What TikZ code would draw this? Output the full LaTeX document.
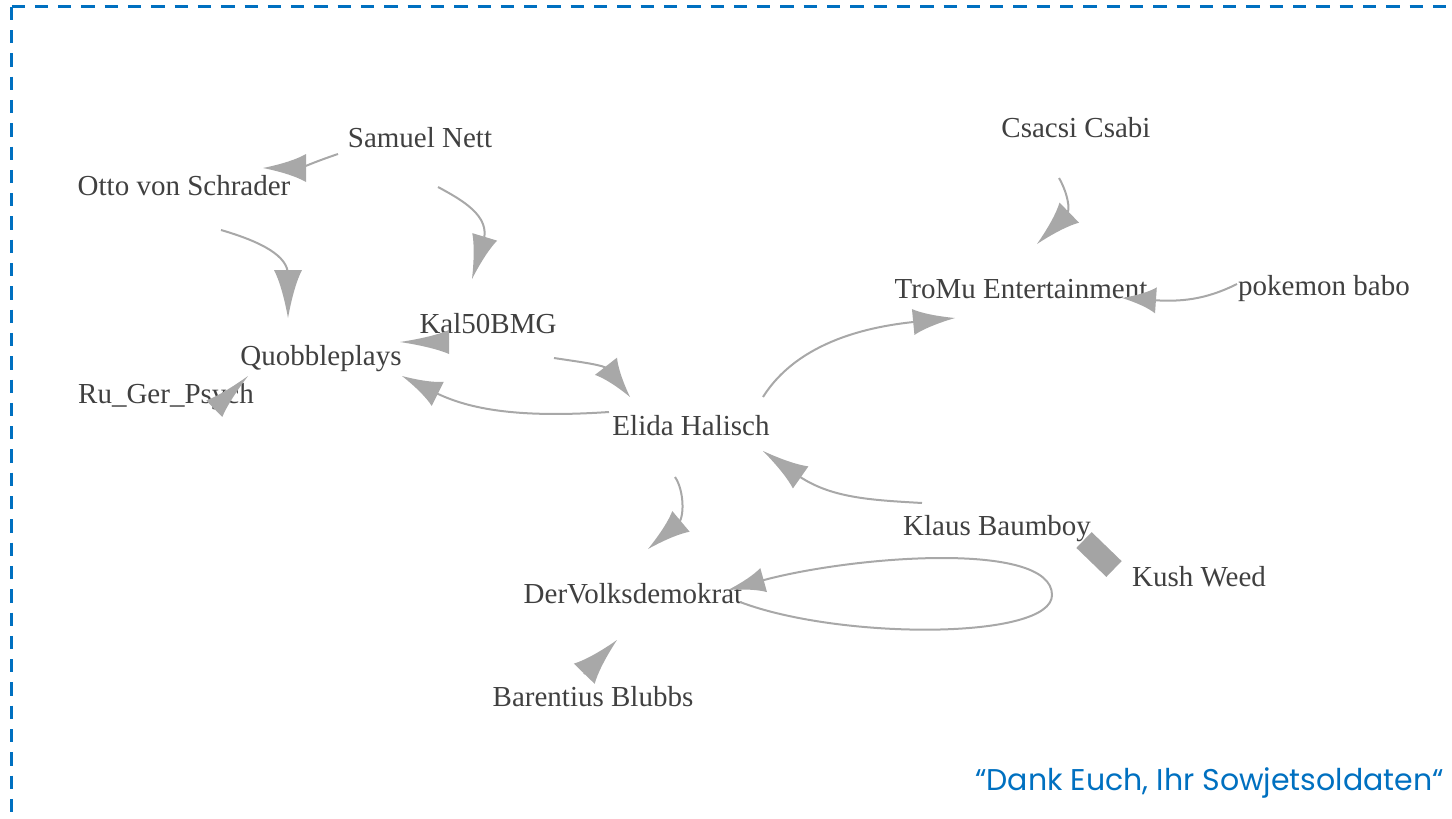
\documentclass[tikz,border=0pt]{standalone}
\usepackage{fontspec}
\setmainfont{Liberation Serif}
\newfontfamily\quotefont{Poppins}
\usetikzlibrary{arrows.meta}
\definecolor{edgegray}{HTML}{A8A8A8}
\definecolor{headgray}{HTML}{A4A4A4}
\definecolor{labelgray}{HTML}{404040}
\definecolor{frameblue}{HTML}{0070C0}

\pgfdeclarearrow{
  name = IgHead,
  parameters = {\the\pgfarrowlength,\the\pgfarrowwidth},
  setup code = {
    \pgfarrowssettipend{0pt}
    \pgfarrowssetlineend{-0.9\pgfarrowlength}
    \pgfarrowssetvisualbackend{-\pgfarrowlength}
    \pgfarrowssetbackend{-\pgfarrowlength}
    \pgfarrowshullpoint{0pt}{0pt}
    \pgfarrowsupperhullpoint{-\pgfarrowlength}{.5\pgfarrowwidth}
    \pgfarrowssavethe\pgfarrowlength
    \pgfarrowssavethe\pgfarrowwidth
  },
  drawing code = {
    \pgfpathmoveto{\pgfqpoint{0pt}{0pt}}
    \pgfpathcurveto{\pgfqpoint{-.45\pgfarrowlength}{.14\pgfarrowwidth}}{\pgfqpoint{-.8\pgfarrowlength}{.32\pgfarrowwidth}}{\pgfqpoint{-\pgfarrowlength}{.5\pgfarrowwidth}}
    \pgfpathlineto{\pgfqpoint{-\pgfarrowlength}{-.5\pgfarrowwidth}}
    \pgfpathcurveto{\pgfqpoint{-.8\pgfarrowlength}{-.32\pgfarrowwidth}}{\pgfqpoint{-.45\pgfarrowlength}{-.14\pgfarrowwidth}}{\pgfqpoint{0pt}{0pt}}
    \pgfpathclose
    \pgfusepathqfill
  },
  defaults = {length = 42pt, width = 27pt}
}

\begin{document}
\begin{tikzpicture}[x=1pt,y=-1pt,
  lbl/.style={inner sep=0pt, anchor=base, text=labelgray, font=\fontsize{29}{34}\selectfont},
  link/.style={draw=edgegray, line width=2pt},
  thicklink/.style={draw=headgray, line width=22pt},
  frame/.style={draw=frameblue, line width=3.3pt, dash pattern=on 13.3pt off 10pt},
  quotetext/.style={inner sep=0pt, anchor=base east, text=frameblue, font=\quotefont\fontsize{30}{36}\selectfont}
]
\useasboundingbox (0,0) rectangle (1452,819);

% frame
\draw[frame] (11.5,6.7) -- (11.5,819);
\draw[frame] (11.5,6.7) -- (1452,6.7);

% nodes
\node[lbl] (samuel)   at (420,147) {Samuel Nett};
\node[lbl] (otto)     at (184,195) {Otto von Schrader};
\node[lbl] (csacsi)   at (1076,137) {Csacsi Csabi};
\node[lbl] (tromu)    at (1021,298) {TroMu Entertainment};
\node[lbl] (pokemon)  at (1324,295) {pokemon babo};
\node[lbl] (kal)      at (488,333) {Kal50BMG};
\node[lbl] (quob)     at (321,365) {Quobbleplays};
\node[lbl] (ruger)    at (166,403) {Ru\_Ger\_Psych};
\node[lbl] (elida)    at (691,435) {Elida Halisch};
\node[lbl] (klaus)    at (997,535) {Klaus Baumboy};
\node[lbl] (kush)     at (1199,586) {Kush Weed};
\node[lbl] (dervolks) at (633,603) {DerVolksdemokrat};
\node[lbl] (barent)   at (593,706) {Barentius Blubbs};

\node[quotetext] (quote) at (1444,790) {“Dank Euch, Ihr Sowjetsoldaten“};

% edges
\draw[link, -{IgHead[length=43pt,width=28pt]}]
  ([shift={(-82,7)}]samuel.base) .. controls (320,160) and (300,168) .. ([shift={(79,-27)}]otto.base);
\draw[link, -{IgHead[length=44pt,width=26pt]}]
  ([shift={(18,40)}]samuel.base) .. controls (462,200) and (491,216) .. ([shift={(-16,-54)}]kal.base);
\draw[link, -{IgHead[length=48pt,width=28pt]}]
  ([shift={(37,35)}]otto.base) .. controls (262,242) and (288,256) .. ([shift={(-33,-47)}]quob.base);
\draw[link, -{IgHead[length=47pt,width=23pt]}]
  ([shift={(48,6)}]ruger.base) -- ([shift={(-73,11)}]quob.base);
\draw[link, -{IgHead[length=49pt,width=24pt]}]
  ([shift={(-39,9)}]kal.base) -- ([shift={(79,-23)}]quob.base);
\draw[link, -{IgHead[length=39pt,width=28pt]}]
  ([shift={(66,25)}]kal.base) .. controls (580,362) and (605,365) .. ([shift={(-61,-38)}]elida.base);
\draw[link, -{IgHead[length=40pt,width=27pt]}]
  ([shift={(-82,-23)}]elida.base) .. controls (520,418) and (470,410) .. ([shift={(81,11)}]quob.base);
\draw[link, -{IgHead[length=42pt,width=26pt]}]
  ([shift={(72,-38)}]elida.base) .. controls (785,362) and (830,330) .. ([shift={(-66,20)}]tromu.base);
\draw[link, -{IgHead[length=45pt,width=28pt]}]
  ([shift={(-17,41)}]csacsi.base) .. controls (1066,190) and (1072,210) .. ([shift={(16,-54)}]tromu.base);
\draw[link, -{IgHead[length=34pt,width=26pt]}]
  ([shift={(-87,-11)}]pokemon.base) .. controls (1205,300) and (1180,302) .. ([shift={(101,0)}]tromu.base);
\draw[link, -{IgHead[length=43pt,width=27pt]}]
  ([shift={(-16,42)}]elida.base) .. controls (684,490) and (685,518) .. ([shift={(15,-54)}]dervolks.base);
\draw[link, -{IgHead[length=46pt,width=27pt]}]
  ([shift={(-75,-32)}]klaus.base) .. controls (870,500) and (830,498) .. ([shift={(72,16)}]elida.base);
\draw[link, -{IgHead[length=37pt,width=25pt]}]
  ([shift={(107,-1)}]dervolks.base) .. controls (840,640) and (1052,640) .. ([shift={(419,-8)}]dervolks.base)
  .. controls (1052,540) and (850,556) .. ([shift={(95,-13)}]dervolks.base);
\draw[link, -{IgHead[length=47pt,width=29pt]}]
  ([shift={(-9,-32)}]barent.base) -- ([shift={(-16,37)}]dervolks.base);
\draw[thicklink]
  ([shift={(87,5)}]klaus.base) -- ([shift={(-85,-17)}]kush.base);
\end{tikzpicture}
\end{document}
